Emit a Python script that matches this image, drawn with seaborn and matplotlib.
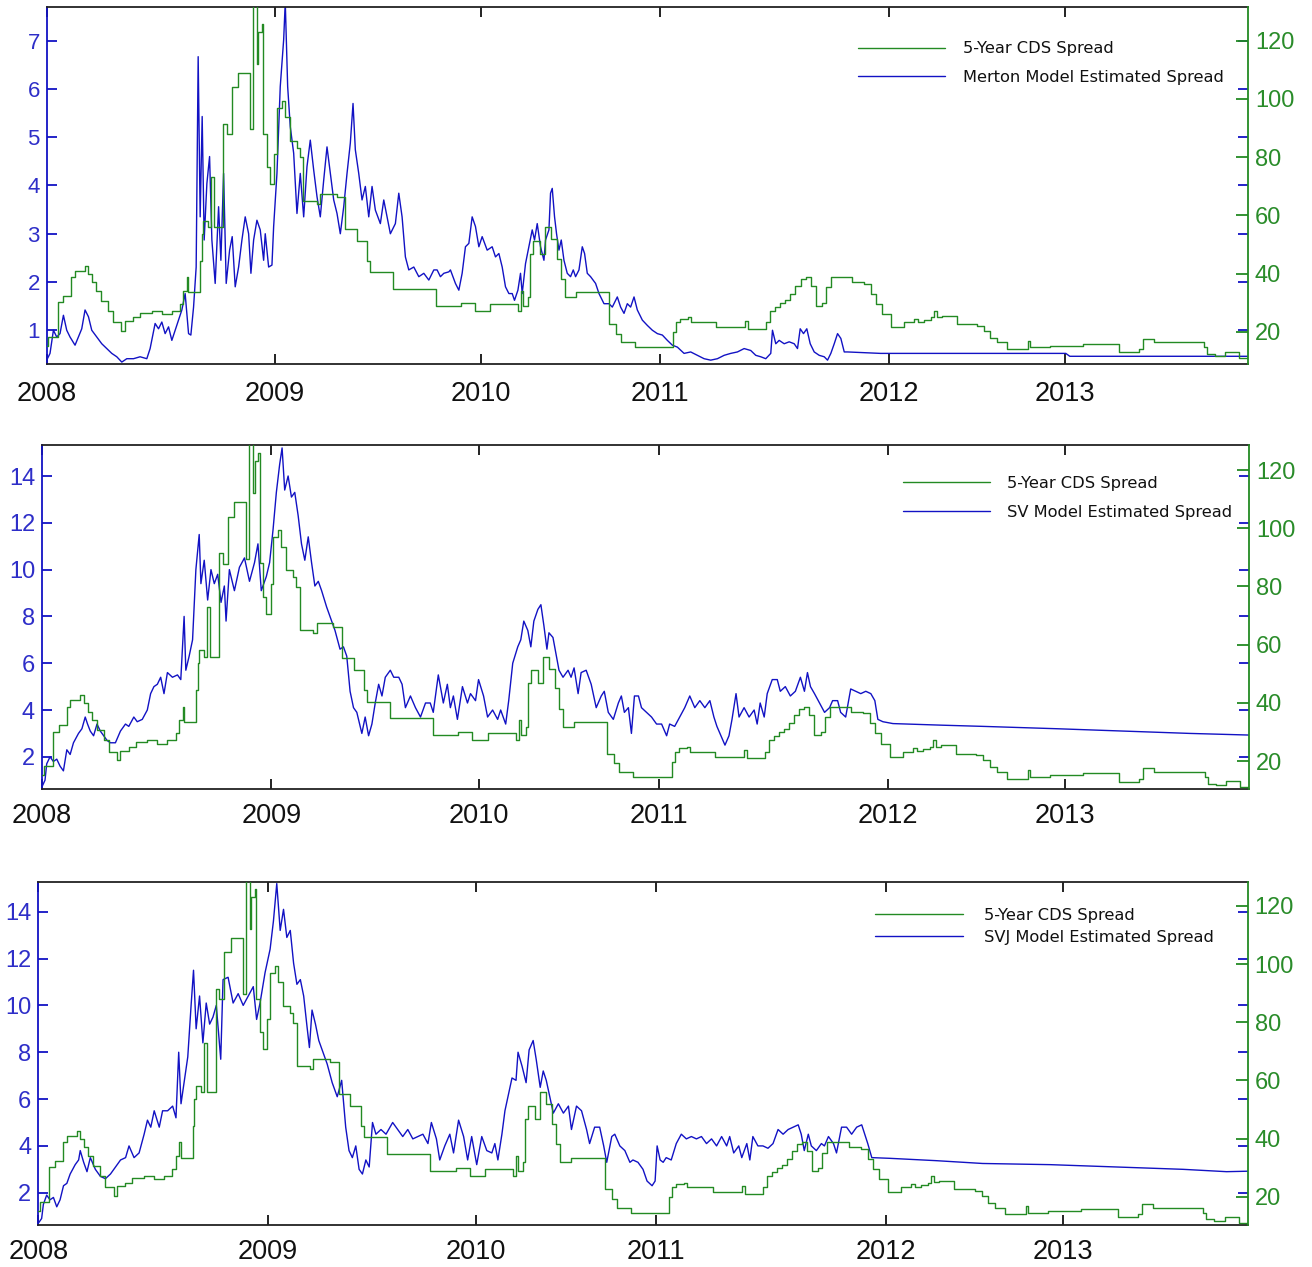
import matplotlib
matplotlib.use("Agg")
import matplotlib.pyplot as plt
import seaborn as sns

# x axis = trading-day index, year labels placed at the first day of each year
year_pos = [0, 228, 434, 613, 841, 1017]
year_labels = ["2008", "2009", "2010", "2011", "2012", "2013"]

# 5-year CDS spread (right axis), stepwise quotes
cds_x = [0, 1.7, 11, 16.7, 24.7, 28, 38, 41.3, 45.3, 49.7, 54.7, 61.3, 66.3, 74.7, 78, 86.3, 93, 104.7,
         114.7, 124.7, 133, 136.3, 139.7, 141.3, 153, 154.7, 156.3, 161.3, 164, 167.3, 176.3, 179.7,
         184.7, 191.3, 203, 205.7, 209.7, 211.3, 214.7, 216.3, 219.7, 223, 227.3, 229.7, 234.7, 238,
         243, 249.7, 253, 256.3, 269.7, 273, 289.7, 298, 309.7, 319.7, 323, 346.3, 389, 414, 428, 443,
         471, 474, 476, 481, 483, 486, 493, 498, 504, 510, 514, 518, 529, 562, 569, 574, 588, 626, 629,
         633, 641, 644, 669, 698, 701, 719, 723, 728, 733, 738, 743, 748, 753, 758, 763, 768, 774, 778,
         783, 804, 816, 823, 828, 834, 843, 856, 866, 870, 876, 883, 886, 889, 894, 909, 929, 936, 942,
         949, 959, 980, 982, 1002, 1035, 1071, 1091, 1095, 1106, 1156, 1159, 1167, 1177, 1191, 1200]
cds_y = [15.2, 18.3, 30.1, 32.4, 38.7, 41.0, 42.7, 39.8, 37.0, 34.1, 30.7, 27.2, 23.2, 20.3, 23.6, 24.9,
         26.6, 27.2, 26.0, 27.2, 29.5, 34.1, 38.7, 33.5, 44.4, 53.6, 58.1, 55.9, 73.0, 55.9, 91.4, 87.9,
         104.0, 109.0, 89.6, 140.0, 112.0, 123.0, 125.7, 88.0, 76.5, 70.7, 81.0, 97.0, 99.4, 93.7,
         85.6, 83.3, 79.9, 65.0, 63.9, 67.3, 66.2, 55.3, 51.3, 44.4, 40.4, 34.7, 28.9, 30.0, 27.2, 29.5,
         27.2, 34.0, 28.9, 31.8, 46.7, 51.3, 46.7, 55.9, 51.8, 45.0, 38.0, 31.8, 33.5, 22.6, 19.2, 16.3,
         14.6, 19.8, 23.2, 24.4, 24.9, 23.2, 21.5, 23.8, 21.0, 23.2, 27.2, 28.5, 30.0, 31.0, 33.0, 35.8,
         38.0, 38.7, 35.8, 28.9, 30.0, 35.2, 38.7, 37.0, 36.5, 33.0, 29.5, 26.0, 21.5, 23.2, 24.4, 23.5,
         24.0, 24.9, 27.2, 25.0, 25.5, 22.6, 22.0, 20.3, 18.0, 16.3, 14.0, 16.9, 14.6, 15.2, 15.8, 12.9,
         14.0, 17.5, 16.3, 14.6, 12.3, 11.8, 13.0, 11.0, 11.0]

# Merton model estimated spread (left axis)
merton_x = [0, 3.3, 6.7, 10, 13.3, 16.7, 20, 23.3, 28.3, 31.7, 35, 38.3, 41.7, 45, 50, 55, 60, 65, 70,
            75, 80, 86.7, 93.3, 100, 103.3, 108.3, 111.7, 115, 118.3, 121.7, 125, 128.3, 131.7, 135,
            138.3, 141.7, 144, 146.7, 149.3, 151.3, 153.3, 155.3, 157.3, 160, 162.7, 165, 168.3, 171.7,
            174, 176.7, 179.3, 182.7, 185.3, 188.3, 191.7, 195, 198.3, 201.7, 204, 206.7, 210, 213.3,
            216.7, 218.3, 221.7, 225, 226.7, 230, 233.3, 236.7, 238.3, 240.7, 243.3, 246.7, 250, 253.3,
            256.7, 260, 263.3, 266.7, 270, 273.3, 276.7, 280, 283.3, 286.7, 290, 293.3, 296.7, 300,
            303.3, 306, 308.3, 311.7, 315, 318.3, 321.7, 325, 328.3, 333.3, 336.7, 340, 343.3, 348.3,
            351.7, 355, 358.3, 361.7, 366.7, 371.7, 376.7, 381.7, 386.7, 390, 393.3, 396.7, 401.7, 403.3,
            408.3, 411.7, 415, 418.3, 421.7, 425, 428.3, 431.7, 435, 440, 445, 448.3, 451.7, 455, 458.3,
            461.7, 465, 467.3, 470.7, 473.3, 475, 478.3, 481.7, 485, 487.3, 490, 493.3, 496.7, 498.3,
            501.7, 503.3, 505, 507.3, 509.3, 511.7, 514, 516.7, 520, 523.3, 526, 528.3, 531.7, 535,
            537.3, 540, 543.3, 548.3, 551.7, 556.7, 561.7, 565, 570, 573.3, 576.7, 580, 583.3, 586.7,
            590, 595, 600, 605, 610, 615, 620, 625, 630, 636.7, 643.3, 650, 656.7, 663.3, 670, 676.7,
            683.3, 690, 696.7, 703.3, 708.3, 713.3, 718.3, 723.3, 725, 728.3, 731.7, 736.7, 741.7, 746.7,
            750, 752.7, 756, 759.3, 762.7, 766.7, 771.7, 776.7, 780, 783.3, 786.7, 790, 793.3, 796.7,
            800, 833, 1018, 1022, 1200]
merton_y = [0.38, 0.52, 1.0, 0.86, 0.93, 1.31, 1.0, 0.86, 0.69, 0.86, 1.03, 1.42, 1.28, 1.0, 0.86, 0.72,
            0.62, 0.52, 0.45, 0.34, 0.41, 0.41, 0.45, 0.41, 0.62, 1.14, 1.03, 1.17, 0.93, 1.07, 0.79,
            1.0, 1.21, 1.42, 1.76, 0.93, 0.90, 1.48, 2.31, 6.67, 3.35, 5.43, 2.87, 4.04, 4.6, 2.87, 1.97,
            3.56, 2.45, 4.25, 1.97, 2.66, 2.94, 1.9, 2.31, 2.87, 3.35, 3.0, 2.18, 2.87, 3.28, 3.08, 2.45,
            3.0, 2.31, 2.35, 3.15, 4.25, 6.05, 7.02, 7.8, 6.05, 5.22, 4.67, 3.42, 4.25, 3.35, 4.39, 4.94,
            4.32, 3.77, 3.35, 4.11, 4.8, 4.25, 3.7, 3.42, 3.0, 3.56, 4.25, 4.88, 5.7, 4.74, 4.25, 3.7,
            3.98, 3.35, 3.98, 3.49, 3.21, 3.7, 3.35, 3.0, 3.21, 3.84, 3.35, 2.52, 2.25, 2.31, 2.11, 2.18,
            2.04, 2.25, 2.25, 2.11, 2.18, 2.21, 2.25, 1.97, 1.83, 2.18, 2.73, 2.8, 3.35, 3.15, 2.73, 2.94,
            2.66, 2.73, 2.52, 2.59, 2.31, 1.9, 1.76, 1.76, 1.62, 1.83, 2.18, 1.76, 2.38, 2.73, 3.08, 2.87,
            3.21, 2.73, 2.45, 2.87, 3.08, 3.84, 3.94, 3.35, 3.0, 2.66, 2.87, 2.45, 2.18, 2.11, 2.25, 2.11,
            2.25, 2.73, 2.59, 2.18, 2.11, 1.97, 1.76, 1.55, 1.55, 1.48, 1.69, 1.48, 1.35, 1.55, 1.48,
            1.69, 1.42, 1.21, 1.1, 1.0, 0.93, 0.9, 0.79, 0.69, 0.65, 0.52, 0.55, 0.48, 0.41, 0.38, 0.41,
            0.48, 0.52, 0.55, 0.62, 0.58, 0.48, 0.45, 0.41, 0.52, 1.0, 0.72, 0.79, 0.72, 0.76, 0.72, 0.62,
            1.03, 0.93, 1.03, 0.72, 0.55, 0.48, 0.45, 0.38, 0.52, 0.72, 0.93, 0.83, 0.55, 0.55, 0.52,
            0.52, 0.46, 0.46]

# SV model estimated spread (left axis)
sv_x = [0, 3, 4.7, 8, 11.3, 14.7, 18, 21.3, 24.7, 28, 31.3, 36.3, 39.7, 43, 45.3, 48, 51.3, 54.7, 58,
        61.3, 64.7, 68, 73, 78, 83, 86.3, 91.3, 94.7, 99.7, 104.7, 108, 111.3, 114.7, 118, 121.3, 124.7,
        129.7, 134.7, 138, 141.3, 143, 146.3, 149.7, 153, 156.3, 158, 161.3, 164.7, 168, 171.3, 174.7,
        178, 181.3, 183, 186.3, 191.3, 196.3, 201.3, 206.3, 211.3, 214.7, 218, 223, 226.3, 229.7, 233,
        236.3, 238.7, 241.3, 244.7, 248, 251.3, 254.7, 258, 261.3, 264.7, 268, 271.3, 274.7, 278, 283,
        286.3, 291.3, 296.3, 299.7, 303, 306.3, 309.7, 313, 318, 321.3, 324.7, 328, 331.3, 334.7, 338,
        341.3, 346.3, 349.7, 354.7, 358, 361.3, 366.3, 371.3, 376.3, 381.3, 386, 389, 394, 399, 403,
        406, 409, 413, 418, 423, 426, 431, 434, 439, 443, 448, 453, 456, 461, 464, 468, 473, 476, 479,
        483, 486, 489, 493, 496, 499, 502, 504, 508, 511, 514, 518, 523, 526, 529, 533, 536, 541, 546,
        551, 556, 559, 563, 568, 573, 576, 579, 583, 586, 589, 593, 596, 601, 606, 611, 616, 621, 624,
        629, 634, 639, 644, 649, 654, 659, 664, 668, 671, 674, 679, 683, 686, 690, 693, 698, 703, 708,
        711, 714, 718, 721, 726, 731, 734, 739, 744, 749, 754, 758, 761, 764, 768, 773, 778, 783, 786,
        791, 794, 799, 804, 809, 814, 819, 824, 828, 831, 836, 846, 896, 936, 1009, 1075, 1141, 1200]
sv_y = [0.72, 1.0, 1.7, 2.0, 1.8, 1.9, 1.6, 1.4, 2.3, 2.1, 2.6, 3.0, 3.2, 3.7, 3.4, 3.1, 2.9, 3.4, 3.1,
        2.9, 2.7, 2.6, 2.6, 3.1, 3.4, 3.3, 3.7, 3.5, 3.6, 4.0, 4.7, 5.0, 5.1, 5.4, 4.7, 5.6, 5.4, 5.5,
        5.3, 8.0, 5.7, 6.3, 7.0, 10.0, 11.5, 9.4, 10.4, 8.7, 10.0, 9.4, 9.8, 8.6, 9.3, 7.8, 10.0, 9.1,
        10.1, 10.5, 9.5, 10.3, 11.1, 9.1, 9.7, 10.3, 11.7, 13.3, 14.5, 15.2, 13.4, 14.0, 13.1, 13.3,
        12.3, 11.1, 10.4, 11.4, 10.3, 9.3, 9.5, 9.1, 8.4, 8.0, 7.4, 6.6, 6.7, 6.3, 4.8, 4.1, 3.9, 3.0,
        3.7, 2.9, 3.4, 4.3, 5.1, 4.6, 5.4, 5.7, 5.4, 5.4, 5.1, 4.1, 4.6, 4.1, 3.7, 4.3, 4.3, 3.9, 5.5,
        4.3, 5.1, 4.1, 4.6, 3.6, 5.0, 4.3, 4.7, 4.4, 5.3, 4.6, 3.7, 4.0, 3.6, 4.0, 3.4, 4.4, 6.0, 6.7,
        7.0, 7.8, 7.4, 6.7, 7.8, 8.3, 8.5, 7.6, 6.6, 7.3, 7.1, 6.4, 5.7, 5.4, 5.7, 5.4, 5.8, 4.7, 5.6,
        5.7, 5.1, 4.1, 4.6, 4.8, 3.9, 3.6, 4.3, 4.6, 3.9, 4.1, 3.0, 4.6, 4.6, 4.1, 3.9, 3.7, 3.4, 3.4,
        2.9, 3.4, 3.3, 3.7, 4.1, 4.6, 4.1, 4.4, 4.1, 4.4, 3.7, 3.3, 3.0, 2.5, 2.9, 3.6, 4.7, 3.7, 4.1,
        3.7, 4.0, 3.4, 4.3, 3.7, 4.7, 5.3, 5.3, 4.8, 5.0, 4.6, 4.8, 5.4, 4.8, 5.6, 5.0, 4.7, 4.3, 3.9,
        4.1, 4.4, 4.4, 3.9, 3.7, 4.9, 4.8, 4.7, 4.8, 4.7, 4.4, 3.6, 3.5, 3.42, 3.35, 3.3, 3.2, 3.1,
        3.0, 2.93]

# SVJ model estimated spread (left axis)
svj_x = [0, 3.3, 5, 8.3, 11.6, 15, 18.3, 21.6, 25, 28.3, 31.6, 36.6, 40, 41.6, 45, 48.3, 51.6, 56.6,
         61.6, 66.6, 71.6, 76.6, 81.6, 86.6, 90, 95, 100, 105, 108.3, 111.6, 115, 120, 123.3, 128.3,
         133.3, 136.6, 139.3, 141.6, 145, 148.3, 151.6, 154, 156.6, 160, 163.3, 166.6, 170, 173.3, 176.6,
         181, 183.3, 188.3, 193.3, 198.3, 203.3, 208.3, 213.3, 216.6, 220, 225, 230, 233.3, 236.6, 240,
         243.3, 246.6, 250, 253.3, 256.6, 260, 263.3, 266.6, 269, 271.6, 275, 278.3, 281.6, 286.6,
         291.6, 296.6, 301, 305, 308.3, 311.6, 315, 318.3, 321.6, 325, 328.3, 331.6, 335, 340, 345,
         351.6, 356.6, 361.6, 366.6, 371.6, 376.6, 381.6, 386.6, 390, 395, 398.3, 403.3, 408.3, 412,
         417, 422, 426, 430, 435, 440, 445, 450, 453, 456, 460, 463, 466, 470, 474, 476, 480, 484, 487,
         491, 494, 498, 501, 504, 508, 511, 516, 521, 526, 529, 534, 539, 544, 547, 552, 557, 561, 564,
         569, 572, 577, 582, 587, 590, 595, 600, 604, 609, 612, 614, 617, 620, 623, 628, 633, 638, 643,
         648, 653, 658, 663, 668, 673, 678, 683, 686, 690, 695, 698, 703, 706, 709, 714, 719, 724, 729,
         734, 739, 744, 749, 754, 757, 760, 764, 767, 772, 777, 780, 784, 789, 792, 797, 802, 807, 812,
         817, 820, 823, 827, 845, 891, 937, 1004, 1070, 1136, 1179, 1200]
svj_y = [0.7, 0.9, 1.5, 1.9, 1.7, 1.8, 1.4, 1.7, 2.3, 2.4, 2.8, 3.2, 3.4, 3.8, 3.3, 2.9, 3.5, 3.0, 2.7,
         2.6, 2.8, 3.1, 3.4, 3.5, 4.0, 3.5, 3.7, 4.5, 5.1, 4.8, 5.5, 4.8, 5.5, 5.5, 5.7, 5.2, 8.0, 5.8,
         6.8, 7.8, 10.0, 11.5, 9.0, 10.4, 8.4, 10.1, 9.2, 9.5, 10.0, 7.7, 11.1, 11.2, 10.1, 10.5, 10.0,
         10.4, 10.8, 9.4, 10.1, 11.4, 12.4, 13.6, 15.2, 13.2, 14.1, 12.9, 13.2, 11.8, 10.9, 11.1, 10.4,
         9.1, 8.2, 9.8, 9.2, 8.5, 8.1, 7.5, 6.7, 6.1, 6.8, 4.8, 3.8, 3.5, 4.0, 3.0, 2.8, 3.4, 3.1, 5.0,
         4.5, 4.7, 4.5, 5.0, 4.7, 4.4, 4.7, 4.3, 4.4, 4.5, 4.1, 5.0, 4.3, 3.4, 4.0, 4.5, 3.7, 5.1, 4.4,
         3.4, 4.4, 3.2, 4.4, 3.8, 3.7, 4.1, 3.4, 4.5, 5.5, 6.1, 6.9, 6.8, 8.0, 7.4, 6.7, 8.1, 8.5, 7.7,
         6.5, 7.2, 6.8, 6.0, 5.4, 5.8, 5.4, 5.7, 4.7, 5.7, 5.5, 4.7, 4.1, 4.8, 4.8, 4.0, 3.3, 4.4, 4.5,
         4.0, 3.8, 3.3, 3.4, 3.3, 3.0, 2.5, 2.3, 2.5, 4.0, 3.4, 3.3, 3.5, 3.4, 4.1, 4.5, 4.3, 4.4, 4.3,
         4.4, 4.1, 4.3, 4.0, 4.4, 4.0, 4.4, 3.7, 4.0, 3.5, 4.1, 3.4, 4.4, 4.0, 4.0, 3.9, 4.1, 4.7, 4.5,
         4.7, 4.8, 4.9, 4.5, 3.8, 4.5, 4.0, 3.8, 4.1, 4.0, 4.4, 4.1, 3.7, 4.8, 4.8, 4.5, 4.8, 4.9, 4.5,
         4.1, 3.5, 3.47, 3.37, 3.25, 3.2, 3.1, 3.0, 2.9, 2.92]

BLUE = "#1212c4"
BLUE_TXT = "#2e2ec8"
GREEN = "#238a23"
GREEN_TXT = "#2a8c2a"

sns.set_style("white")
plt.rcParams["font.family"] = ["Liberation Sans", "DejaVu Sans"]


def spread_panel(fig, rect, model_x, model_y, model_label, left_lim, left_ticks, left_size,
                 right_lim, legend_at, legend_spacing, text_pad, x_pad):
    ax = fig.add_axes(rect)
    ax2 = ax.twinx()
    sns.lineplot(x=model_x, y=model_y, ax=ax, color=BLUE, lw=1.0, estimator=None, sort=False)
    sns.lineplot(x=cds_x, y=cds_y, ax=ax2, color=GREEN, lw=1.0, estimator=None, sort=False,
                 drawstyle="steps-post")
    ax.set_xlim(0, 1200)
    ax.set_ylim(*left_lim)
    ax2.set_ylim(*right_lim)
    ax.set_xticks(year_pos)
    ax.set_xticklabels(year_labels, fontsize=19.5)
    ax.set_yticks(left_ticks)
    ax.set_yticklabels([str(t) for t in left_ticks], fontsize=left_size)
    ax2.set_yticks([20, 40, 60, 80, 100, 120])
    ax2.set_yticklabels(["20", "40", "60", "80", "100", "120"], fontsize=17)
    ax.set_xlabel("")
    ax.set_ylabel("")
    ax2.set_ylabel("")
    ax.tick_params(axis="x", direction="in", top=True, bottom=True, length=7.5, width=1.3,
                   color="#111111", labelcolor="#111111", pad=x_pad)
    ax.tick_params(axis="y", direction="in", left=True, right=True, labelright=False,
                   length=7.5, width=1.3, color=BLUE, labelcolor=BLUE_TXT, pad=5)
    ax2.tick_params(axis="y", direction="in", right=True, length=8.5, width=1.3,
                    color=GREEN, labelcolor=GREEN_TXT, pad=5)
    for side in ["top", "bottom"]:
        ax.spines[side].set_color("#222222")
        ax.spines[side].set_linewidth(1.3)
        ax2.spines[side].set_visible(False)
    ax.spines["left"].set_color(BLUE)
    ax.spines["left"].set_linewidth(1.3)
    ax.spines["right"].set_visible(False)
    ax2.spines["left"].set_visible(False)
    ax2.spines["right"].set_color(GREEN)
    ax2.spines["right"].set_linewidth(1.3)

    handles = [ax2.lines[0], ax.lines[0]]
    leg = ax2.legend(handles, ["5-Year CDS Spread", model_label], loc="upper left",
                     bbox_to_anchor=legend_at, frameon=False, borderaxespad=0, borderpad=0,
                     handlelength=5.4, handletextpad=text_pad, labelspacing=legend_spacing,
                     prop={"family": "DejaVu Sans", "size": 11.7})
    for t in leg.get_texts():
        t.set_color("#111111")
    return ax, ax2


fig = plt.figure(figsize=(13.12, 12.67), dpi=100)

spread_panel(fig, [0.0356, 0.7127, 0.9156, 0.2818], merton_x, merton_y,
             "Merton Model Estimated Spread", (0.3, 7.7), [1, 2, 3, 4, 5, 6, 7], 16,
             (8.9, 131.6), (0.675, 0.904), 0.85, 1.1, 12)
spread_panel(fig, [0.0320, 0.3770, 0.9200, 0.2715], sv_x, sv_y,
             "SV Model Estimated Spread", (0.61, 15.31), [2, 4, 6, 8, 10, 12, 14], 17,
             (10.3, 128.5), (0.713, 0.911), 0.85, 1.0, 9.5)
spread_panel(fig, [0.0292, 0.0329, 0.9218, 0.2712], svj_x, svj_y,
             "SVJ Model Estimated Spread", (0.61, 15.28), [2, 4, 6, 8, 10, 12, 14], 17,
             (10.2, 128.3), (0.692, 0.923), 0.4, 1.3, 9.5)

fig.savefig("out.png", dpi=100)
